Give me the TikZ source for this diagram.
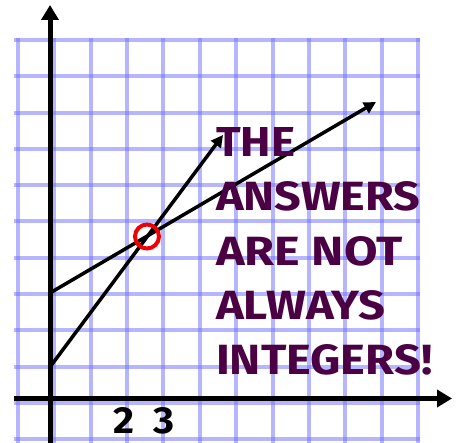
\documentclass[tikz,border=0pt]{standalone}
\usepackage{fontspec}
\setmainfont{Fira Sans}
\usetikzlibrary{arrows.meta}
\definecolor{gridblue}{RGB}{110,110,255}
\definecolor{msgpurple}{RGB}{74,0,66}
\definecolor{ringred}{RGB}{240,0,0}
\tikzset{
  gridline/.style={draw=gridblue, opacity=0.5, line width=4pt},
  axisline/.style={draw=black, line width=5pt, -{Triangle[length=15pt,width=17pt]}},
  graphline/.style={draw=black, line width=3.5pt, line cap=round, -{Triangle[length=12pt,width=12pt]}},
  msg/.style={anchor=base west, inner sep=0pt, text=msgpurple, font=\bfseries},
  ticklabel/.style={anchor=base, inner sep=0pt, text=black, font=\bfseries},
  ring/.style={circle, draw=ringred, line width=4pt, minimum size=24pt, inner sep=0pt}
}
\begin{document}
\begin{tikzpicture}[x=1pt,y=-1pt]
\useasboundingbox (0,0) rectangle (458,443);
% grid
\foreach \k in {0,...,11}{
  \draw[gridline] (18+36.36*\k,38) -- (18+36.36*\k,443);
}
\foreach \k in {0,...,11}{
  \draw[gridline] (14,40+36.3*\k) -- (420,40+36.3*\k);
}
% axes
\coordinate (ybot) at (50,443);
\coordinate (ytop) at (50,5);
\coordinate (xleft) at (14,398.5);
\coordinate (xright) at (452,398.5);
\draw[axisline] (ybot) -- (ytop);
\draw[axisline] (xleft) -- (xright);
% lines
\coordinate (aStart) at (50,367);
\coordinate (aEnd) at (223,135);
\coordinate (bStart) at (50,293);
\coordinate (bEnd) at (376,102);
\draw[graphline] (aStart) -- (aEnd);
\draw[graphline] (bStart) -- (bEnd);
\node[ring] (cross) at (147,236.5) {};
% labels
\node[ticklabel] (two) at (124,434) {\resizebox{21pt}{26pt}{2}};
\node[ticklabel] (three) at (164,434) {\resizebox{21pt}{26pt}{3}};
% message
\node[msg] (m1) at (216,157) {\resizebox{79pt}{29pt}{THE}};
\node[msg] (m2) at (216,211) {\resizebox{204pt}{29pt}{ANSWERS}};
\node[msg] (m3) at (216,266) {\resizebox{186pt}{29pt}{ARE NOT}};
\node[msg] (m4) at (216,320) {\resizebox{169pt}{29pt}{ALWAYS}};
\node[msg] (m5) at (216,375) {\resizebox{216pt}{30pt}{INTEGERS!}};
\end{tikzpicture}
\end{document}
